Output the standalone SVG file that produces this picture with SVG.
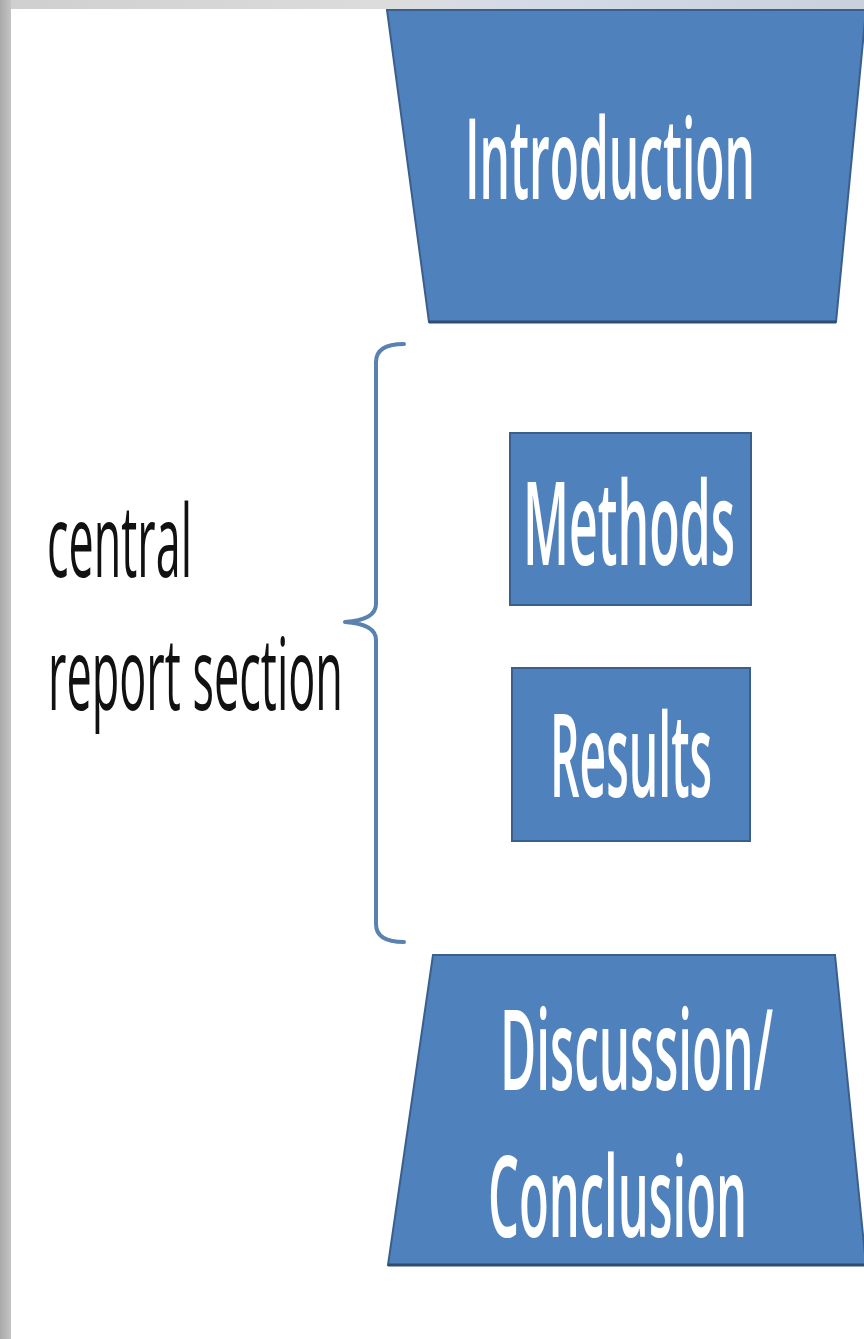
<svg xmlns="http://www.w3.org/2000/svg" width="864" height="1339" viewBox="0 0 864 1339">
<defs>
<linearGradient id="lg" x1="0" y1="0" x2="1" y2="0">
<stop offset="0" stop-color="#a9a9a9"/><stop offset="1" stop-color="#c4c4c4"/>
</linearGradient>
<linearGradient id="tg" x1="0" y1="0" x2="1" y2="0">
<stop offset="0" stop-color="#cfcfcf"/><stop offset="0.45" stop-color="#dcdcdc"/><stop offset="0.6" stop-color="#d4dbe6"/><stop offset="1" stop-color="#c9d1dd"/>
</linearGradient>
</defs>
<style>
.shape{fill:#4f81bd;stroke:#3b5f8c;stroke-width:2}
.lbl{font-family:"Open Sans","Liberation Sans",sans-serif;fill:#ffffff;font-weight:600}
.side{font-family:"Open Sans","Liberation Sans",sans-serif;fill:#111111}
.brace{fill:none;stroke:#5a82b0;stroke-width:4;stroke-linecap:round;stroke-linejoin:round}
</style>
<rect x="0" y="0" width="864" height="1339" fill="#ffffff"/>
<rect x="0" y="0" width="864" height="9" fill="url(#tg)"/>
<rect x="0" y="0" width="11" height="1339" fill="url(#lg)"/>

<g id="introduction">
<polygon class="shape" points="387,10 866,10 836,322 429,322"/>
<line x1="429" y1="322" x2="836" y2="322" stroke="#2f4d73" stroke-width="3"/>
<g transform="translate(465,199) scale(1,2.15)">
<text class="lbl" x="0" y="0" font-size="52" textLength="290" lengthAdjust="spacingAndGlyphs">Introduction</text>
</g>
</g>

<g id="methods">
<rect class="shape" x="510" y="433" width="241" height="172"/>
<g transform="translate(523,565) scale(1,1.6)">
<text class="lbl" x="0" y="0" font-size="72" textLength="212" lengthAdjust="spacingAndGlyphs">Methods</text>
</g>
</g>

<g id="results">
<rect class="shape" x="512" y="668" width="238" height="173"/>
<g transform="translate(550,797) scale(1,1.6)">
<text class="lbl" x="0" y="0" font-size="72" textLength="162" lengthAdjust="spacingAndGlyphs">Results</text>
</g>
</g>

<g id="discussion">
<polygon class="shape" points="433,955 835,955 866,1265 388,1265"/>
<line x1="388" y1="1265" x2="866" y2="1265" stroke="#2f4d73" stroke-width="3"/>
<g transform="translate(500,1090) scale(1,2.15)">
<text class="lbl" x="0" y="0" font-size="52" textLength="273" lengthAdjust="spacingAndGlyphs">Discussion/</text>
</g>
<g transform="translate(488,1237) scale(1,2.15)">
<text class="lbl" x="0" y="0" font-size="52" textLength="259" lengthAdjust="spacingAndGlyphs">Conclusion</text>
</g>
</g>

<g id="central-label">
<g transform="translate(47,577) scale(1,1.6)">
<text class="side" x="0" y="0" font-size="63" textLength="145" lengthAdjust="spacingAndGlyphs">central</text>
</g>
<g transform="translate(48,710) scale(1,1.6)">
<text class="side" x="0" y="0" font-size="63" textLength="295" lengthAdjust="spacingAndGlyphs">report section</text>
</g>
</g>

<g id="connectors">
<path class="brace" d="M404,344 Q376,344 376,362 L376,604 Q376,620 345,622 Q376,624 376,640 L376,924 Q376,942 404,942"/>
</g>
</svg>
